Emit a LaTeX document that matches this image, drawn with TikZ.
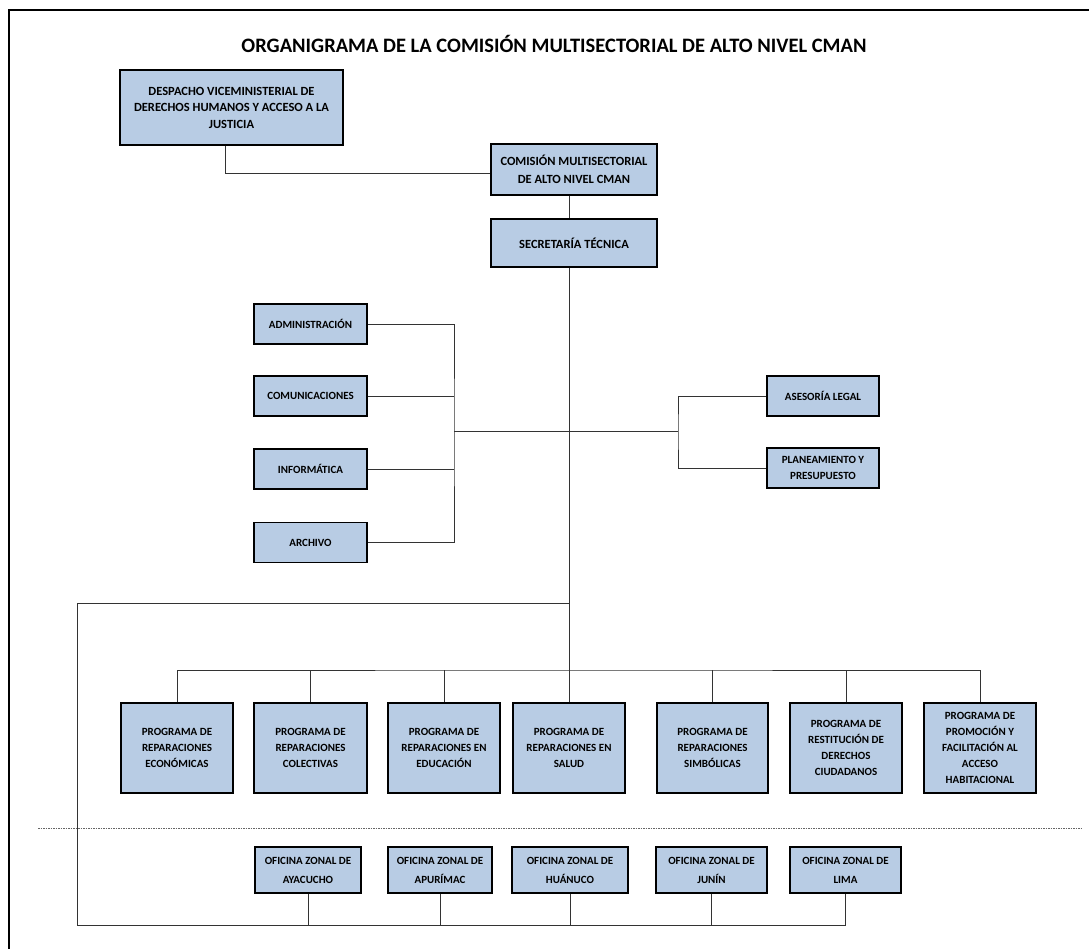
\documentclass[tikz,border=0pt]{standalone}
\usepackage{fontspec}
\setmainfont{Carlito}
\definecolor{boxblue}{RGB}{184,204,228}
\begin{document}
\begin{tikzpicture}[x=1pt,y=-1pt,
  box/.style={draw=black, line width=1.2pt, fill=boxblue, inner sep=0pt, align=center,
    font=\bfseries\fontsize{11}{15.8}\selectfont},
  bigbox/.style={box, font=\bfseries\fontsize{12.5}{16.5}\selectfont},
  prog/.style={box, minimum width=112, minimum height=90},
  side/.style={box, minimum width=113, minimum height=40},
  zonal/.style={box, minimum height=46, font=\bfseries\fontsize{11}{19}\selectfont},
  conn/.style={draw=black!80, line width=0.9pt},
  sepline/.style={draw=black!60, line width=0.8pt, dash pattern=on 1.5pt off 1pt}
]
\useasboundingbox (0,0) rectangle (1089,949);
\draw[line width=2pt] (9,949) -- (9,10) -- (1090,10);

\node[font=\bfseries\fontsize{20.5}{24}\selectfont] (title) at (554,44)
  {ORGANIGRAMA DE LA COMISIÓN MULTISECTORIAL DE ALTO NIVEL CMAN};

\node[bigbox, minimum width=223, minimum height=75] (desp) at (231.5,107.5)
  {DESPACHO VICEMINISTERIAL DE\\DERECHOS HUMANOS Y ACCESO A LA\\JUSTICIA};
\node[bigbox, minimum width=166, minimum height=51, font=\bfseries\fontsize{12.5}{18}\selectfont] (cman) at (574,169.5)
  {COMISIÓN MULTISECTORIAL\\DE ALTO NIVEL CMAN};
\node[bigbox, minimum width=166, minimum height=48] (sec) at (574,243)
  {SECRETARÍA TÉCNICA};

\node[side] (admin) at (310.5,324) {ADMINISTRACIÓN};
\node[side] (comun) at (310.5,396) {COMUNICACIONES};
\node[side] (inform) at (310.5,469) {INFORMÁTICA};
\node[side] (archivo) at (310.5,542.5) {ARCHIVO};
\node[side, minimum width=112] (ases) at (823,396) {ASESORÍA LEGAL};
\node[side, minimum width=112] (plan) at (823,468) {PLANEAMIENTO Y\\PRESUPUESTO};

\node[prog] (p1) at (177,748) {PROGRAMA DE\\REPARACIONES\\ECONÓMICAS};
\node[prog, minimum width=113] (p2) at (310.5,748) {PROGRAMA DE\\REPARACIONES\\COLECTIVAS};
\node[prog] (p3) at (444,748) {PROGRAMA DE\\REPARACIONES EN\\EDUCACIÓN};
\node[prog] (p4) at (569,748) {PROGRAMA DE\\REPARACIONES EN\\SALUD};
\node[prog, minimum width=111] (p5) at (712.5,748) {PROGRAMA DE\\REPARACIONES\\SIMBÓLICAS};
\node[prog] (p6) at (846,748) {PROGRAMA DE\\RESTITUCIÓN DE\\DERECHOS\\CIUDADANOS};
\node[prog] (p7) at (980,748) {PROGRAMA DE\\PROMOCIÓN Y\\FACILITACIÓN AL\\ACCESO\\HABITACIONAL};

\node[zonal, minimum width=106] (o1) at (308,870) {OFICINA ZONAL DE\\AYACUCHO};
\node[zonal, minimum width=104] (o2) at (440,870) {OFICINA ZONAL DE\\APURÍMAC};
\node[zonal, minimum width=116] (o3) at (570,870) {OFICINA ZONAL DE\\HUÁNUCO};
\node[zonal, minimum width=111] (o4) at (711.5,870) {OFICINA ZONAL DE\\JUNÍN};
\node[zonal, minimum width=111] (o5) at (845.5,870) {OFICINA ZONAL DE\\LIMA};

% connectors
\draw[conn] ([xshift=-6pt]desp.south) |- ([yshift=-3.5pt]cman.west);
\draw[conn] ([xshift=-5pt]cman.south) -- ([xshift=-5pt]sec.north);
\draw[conn] ([xshift=-5pt]sec.south) -- (p4.north);

\coordinate (t1) at (569,431.5);
\coordinate (lbx) at (454,431.5);
\coordinate (rbx) at (678,431.5);
\draw[conn] (admin.east) -| (lbx) |- (archivo.east);
\draw[conn] (comun.east) -- (comun.east -| lbx);
\draw[conn] (inform.east) -- (inform.east -| lbx);
\draw[conn] (lbx) -- (t1) -- (rbx);
\draw[conn] (ases.west) -| (rbx) |- (plan.west);

\coordinate (pb) at (569,670);
\draw[conn] (p1.north) |- (pb) -| (p7.north);
\foreach \p in {p2,p3,p5,p6} \draw[conn] (\p.north) -- (\p.north |- pb);

\coordinate (t2) at (569,603);
\coordinate (bus) at (77,925);
\draw[conn] (t2) -| (bus) -- (bus -| o5.south);
\foreach \o in {o1,o2,o3,o4,o5} \draw[conn] (\o.south) -- (\o.south |- bus);

\coordinate (dl) at (38,828);
\coordinate (dr) at (1082,828);
\draw[sepline] (dl) -- (dr);
\end{tikzpicture}
\end{document}
